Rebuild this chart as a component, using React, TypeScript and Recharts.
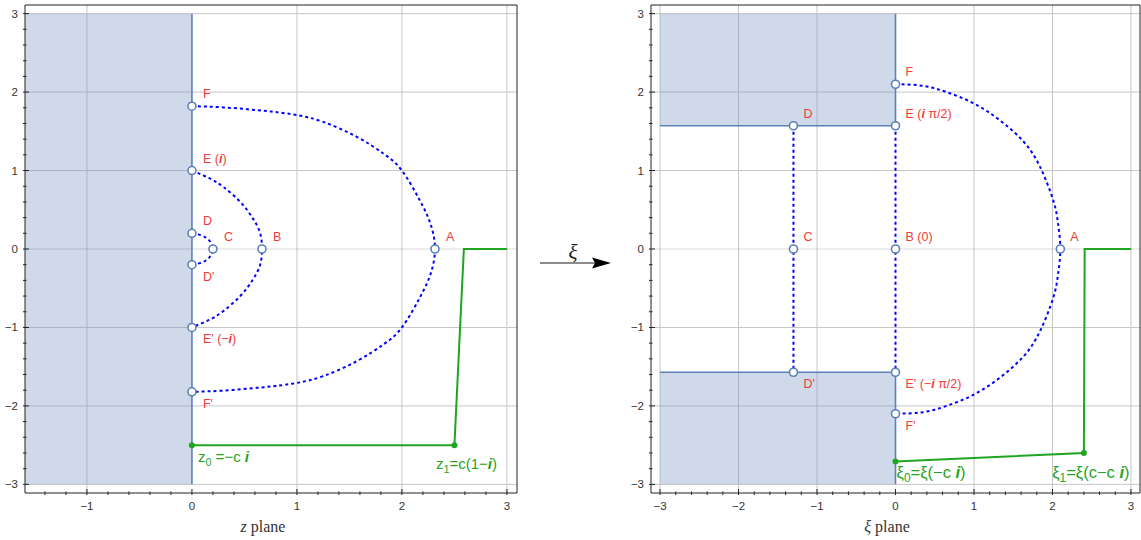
import React from "react";
import {
  ComposedChart,
  CartesianGrid,
  XAxis,
  YAxis,
  ReferenceArea,
  ReferenceLine,
  Line,
  Scatter,
} from "recharts";

const EDGE = "#5d80b6";
const SHADE = "#7592c3";
const DOTTED = "#0000ff";
const GREEN = "#1fa51f";
const RED = "#f43b3b";
const SANS = "Liberation Sans, Arial, sans-serif";
const SERIF = "Liberation Serif, DejaVu Serif, Times New Roman, serif";

// shared y axis (both planes)
const Y_TICKS = [
  -3, -2.8, -2.6, -2.4, -2.2, -2, -1.8, -1.6, -1.4, -1.2, -1, -0.8, -0.6, -0.4, -0.2, 0,
  0.2, 0.4, 0.6, 0.8, 1, 1.2, 1.4, 1.6, 1.8, 2, 2.2, 2.4, 2.6, 2.8, 3,
];
const Y_GRID = [-3, -2, -1, 1, 2, 3];
const Y_DOMAIN: [number, number] = [-3.11, 3.11];

// z plane
const Z_X_TICKS = [
  -1.4, -1.2, -1, -0.8, -0.6, -0.4, -0.2, 0, 0.2, 0.4, 0.6, 0.8, 1, 1.2, 1.4, 1.6, 1.8, 2,
  2.2, 2.4, 2.6, 2.8, 3,
];
const Z_X_GRID = [-1, 1, 2, 3];
const Z_X_DOMAIN: [number, number] = [-1.59, 3.096];

const zShades = [{ x1: -1.59, x2: 0, y1: -3, y2: 3 }];
const zEdges = [
  [
    { x: 0, y: -3 },
    { x: 0, y: 3 },
  ],
];
const zOuter = [
  { x: 0, y: 1.82 }, { x: 0.3, y: 1.805 }, { x: 0.62, y: 1.77 }, { x: 0.8, y: 1.745 },
  { x: 1.0, y: 1.707 }, { x: 1.25, y: 1.62 }, { x: 1.57, y: 1.43 }, { x: 1.82, y: 1.22 },
  { x: 2.0, y: 1.0 }, { x: 2.17, y: 0.62 }, { x: 2.27, y: 0.33 }, { x: 2.315, y: 0 },
  { x: 2.27, y: -0.33 }, { x: 2.17, y: -0.62 }, { x: 2.0, y: -1.0 }, { x: 1.82, y: -1.22 },
  { x: 1.57, y: -1.43 }, { x: 1.25, y: -1.62 }, { x: 1.0, y: -1.707 }, { x: 0.8, y: -1.745 },
  { x: 0.62, y: -1.77 }, { x: 0.3, y: -1.805 }, { x: 0, y: -1.82 },
];
const zMiddle = [
  { x: 0, y: 1.0 }, { x: 0.17, y: 0.9 }, { x: 0.3, y: 0.79 }, { x: 0.46, y: 0.6 },
  { x: 0.58, y: 0.39 }, { x: 0.65, y: 0.2 }, { x: 0.667, y: 0 }, { x: 0.65, y: -0.2 },
  { x: 0.58, y: -0.39 }, { x: 0.46, y: -0.6 }, { x: 0.3, y: -0.79 }, { x: 0.17, y: -0.9 },
  { x: 0, y: -1.0 },
];
const zInner = [
  { x: 0, y: 0.2 }, { x: 0.076, y: 0.18 }, { x: 0.14, y: 0.14 }, { x: 0.18, y: 0.08 },
  { x: 0.2, y: 0 }, { x: 0.18, y: -0.08 }, { x: 0.14, y: -0.14 }, { x: 0.076, y: -0.18 },
  { x: 0, y: -0.2 },
];
const zPath = [
  { x: 0, y: -2.5 },
  { x: 2.5, y: -2.5 },
  { x: 2.59, y: 0 },
  { x: 3.0, y: 0 },
];
const zMarks = [
  { x: 0, y: 1.82, label: "F" },
  { x: 0, y: 1.0, label: "E (§i§)" },
  { x: 0, y: 0.2, label: "D" },
  { x: 0.2, y: 0, label: "C" },
  { x: 0.667, y: 0, label: "B" },
  { x: 2.315, y: 0, label: "A" },
  { x: 0, y: -0.2, label: "D'" },
  { x: 0, y: -1.0, label: "E' (−§i§)" },
  { x: 0, y: -1.82, label: "F'" },
];
const zEnds = [
  { x: 0, y: -2.5, label: "z_0_ =−c §i§" },
  { x: 2.5, y: -2.5, label: "z_1_=c(1−§i§)" },
];

// xi plane
const XI_X_TICKS = [
  -3, -2.8, -2.6, -2.4, -2.2, -2, -1.8, -1.6, -1.4, -1.2, -1, -0.8, -0.6, -0.4, -0.2, 0,
  0.2, 0.4, 0.6, 0.8, 1, 1.2, 1.4, 1.6, 1.8, 2, 2.2, 2.4, 2.6, 2.8, 3,
];
const XI_X_GRID = [-3, -2, -1, 1, 2, 3];
const XI_X_DOMAIN: [number, number] = [-3.115, 3.115];

const xiShades = [
  { x1: -3, x2: 0, y1: 1.571, y2: 3 },
  { x1: -3, x2: 0, y1: -3, y2: -1.571 },
];
const xiEdges = [
  [
    { x: -3, y: 1.571 },
    { x: 0, y: 1.571 },
    { x: 0, y: 3 },
  ],
  [
    { x: -3, y: -1.571 },
    { x: 0, y: -1.571 },
    { x: 0, y: -3 },
  ],
];
const xiOuter = [
  { x: 0, y: 2.1 }, { x: 0.35, y: 2.08 }, { x: 0.65, y: 2.0 }, { x: 0.99, y: 1.86 },
  { x: 1.33, y: 1.64 }, { x: 1.63, y: 1.37 }, { x: 1.84, y: 1.05 }, { x: 2.01, y: 0.62 },
  { x: 2.07, y: 0.33 }, { x: 2.1, y: 0 }, { x: 2.07, y: -0.33 }, { x: 2.01, y: -0.62 },
  { x: 1.84, y: -1.05 }, { x: 1.63, y: -1.37 }, { x: 1.33, y: -1.64 }, { x: 0.99, y: -1.86 },
  { x: 0.65, y: -2.0 }, { x: 0.35, y: -2.08 }, { x: 0, y: -2.1 },
];
const xiMiddle = [
  { x: 0, y: 1.571 },
  { x: 0, y: -1.571 },
];
const xiInner = [
  { x: -1.3, y: 1.571 },
  { x: -1.3, y: -1.571 },
];
const xiPath = [
  { x: 0, y: -2.71 },
  { x: 2.4, y: -2.6 },
  { x: 2.41, y: 0 },
  { x: 3.0, y: 0 },
];
const xiMarks = [
  { x: 0, y: 2.1, label: "F" },
  { x: 0, y: 1.571, label: "E (§i§ π/2)" },
  { x: -1.3, y: 1.571, label: "D" },
  { x: -1.3, y: 0, label: "C" },
  { x: 0, y: 0, label: "B (0)" },
  { x: 2.1, y: 0, label: "A" },
  { x: -1.3, y: -1.571, label: "D'" },
  { x: 0, y: -1.571, label: "E' (−§i§ π/2)" },
  { x: 0, y: -2.1, label: "F'" },
];
const xiEnds = [
  { x: 0, y: -2.71, label: "ξ_0_=ξ(−c §i§)" },
  { x: 2.4, y: -2.6, label: "ξ_1_=ξ(c−c §i§)" },
];

// where the green end labels sit relative to their dot
const END_PLACE: Record<string, { dx: number; dy: number; anchor: string; size: number }> = {
  "z_0_ =−c §i§": { dx: 6, dy: 17, anchor: "start", size: 15 },
  "z_1_=c(1−§i§)": { dx: 12, dy: 24, anchor: "middle", size: 15 },
  "ξ_0_=ξ(−c §i§)": { dx: 1, dy: 16, anchor: "start", size: 16.5 },
  "ξ_1_=ξ(c−c §i§)": { dx: 7, dy: 25, anchor: "middle", size: 16.5 },
};

// § toggles bold italic, _ toggles subscript
function rich(s: string) {
  const out: React.ReactNode[] = [];
  let bold = false;
  let sub = false;
  let shift = 0;
  let buf = "";
  let key = 0;
  const flush = () => {
    if (!buf) return;
    const target = sub ? 4 : 0;
    out.push(
      <tspan
        key={key++}
        dy={target - shift}
        fontWeight={bold ? "bold" : undefined}
        fontStyle={bold ? "italic" : undefined}
        fontSize={sub ? "0.72em" : undefined}
      >
        {buf}
      </tspan>
    );
    shift = target;
    buf = "";
  };
  for (const ch of s) {
    if (ch === "§") {
      flush();
      bold = !bold;
    } else if (ch === "_") {
      flush();
      sub = !sub;
    } else buf += ch;
  }
  flush();
  return out;
}

const isMajor = (v: number) => Math.abs(v - Math.round(v)) < 1e-6;
const fmt = (v: number) => {
  const r = Math.round(v);
  return r < 0 ? "−" + Math.abs(r) : String(r);
};
const TICK_COLOR = "#222";

const BottomTick = (p: any) => {
  const { x, y, payload } = p;
  const major = isMajor(payload.value);
  return (
    <g>
      <line x1={x} x2={x} y1={y} y2={y - (major ? 6 : 3.5)} stroke={TICK_COLOR} />
      {major && (
        <text x={x} y={y + 15} textAnchor="middle" fontSize={11.5} fontFamily={SANS} fill="#333">
          {fmt(payload.value)}
        </text>
      )}
    </g>
  );
};
const TopTick = (p: any) => {
  const { x, y, payload } = p;
  const major = isMajor(payload.value);
  return <line x1={x} x2={x} y1={y} y2={y + (major ? 6 : 3.5)} stroke={TICK_COLOR} />;
};
const LeftTick = (p: any) => {
  const { x, y, payload } = p;
  const major = isMajor(payload.value);
  return (
    <g>
      <line x1={x} x2={x + (major ? 6 : 3.5)} y1={y} y2={y} stroke={TICK_COLOR} />
      {major && (
        <text x={x - 5} y={y + 4} textAnchor="end" fontSize={11.5} fontFamily={SANS} fill="#333">
          {fmt(payload.value)}
        </text>
      )}
    </g>
  );
};
const RightTick = (p: any) => {
  const { x, y, payload } = p;
  const major = isMajor(payload.value);
  return <line x1={x} x2={x - (major ? 6 : 3.5)} y1={y} y2={y} stroke={TICK_COLOR} />;
};

const makeMark = (dx: number) => (p: any) => {
  const { cx, cy, payload } = p;
  const below = payload.y < 0;
  return (
    <g>
      <circle cx={cx} cy={cy} r={4} fill="#fff" stroke={EDGE} strokeWidth={1.6} />
      <text
        x={cx + dx}
        y={cy + (below ? 16 : -8)}
        fill={RED}
        fontSize={12.5}
        fontFamily={SANS}
        style={{ whiteSpace: "pre" }}
      >
        {rich(payload.label)}
      </text>
    </g>
  );
};

const EndDot = (p: any) => {
  const { cx, cy, payload } = p;
  const place = END_PLACE[payload.label] ?? { dx: 6, dy: 16, anchor: "start", size: 15 };
  return (
    <g>
      <circle cx={cx} cy={cy} r={3} fill={GREEN} />
      <text
        x={cx + place.dx}
        y={cy + place.dy}
        textAnchor={place.anchor as any}
        fill={GREEN}
        fontSize={place.size}
        fontFamily={SANS}
      >
        {rich(payload.label)}
      </text>
    </g>
  );
};

type Pt = { x: number; y: number };
type PanelProps = {
  left: number;
  width: number;
  margin: { top: number; right: number; bottom: number; left: number };
  xDomain: [number, number];
  xTicks: number[];
  gridX: number[];
  shades: { x1: number; x2: number; y1: number; y2: number }[];
  edges: Pt[][];
  curves: Pt[][];
  path: Pt[];
  marks: (Pt & { label: string })[];
  ends: (Pt & { label: string })[];
  labelDx: number;
};

function Panel(props: PanelProps) {
  const { left, width, margin, xDomain, xTicks, gridX, shades, edges, curves, path, marks, ends, labelDx } =
    props;
  return (
    <div style={{ position: "absolute", left, top: 0 }}>
      <ComposedChart width={width} height={540} margin={margin}>
        <CartesianGrid verticalValues={gridX} horizontalValues={Y_GRID} stroke="#c6c6c6" />
        <XAxis
          type="number"
          dataKey="x"
          domain={xDomain}
          ticks={xTicks}
          interval={0}
          height={30}
          tickSize={0}
          tickLine={false}
          axisLine={{ stroke: TICK_COLOR }}
          tick={(p: any) => <BottomTick {...p} />}
        />
        <XAxis
          xAxisId="t"
          orientation="top"
          type="number"
          dataKey="x"
          domain={xDomain}
          ticks={xTicks}
          interval={0}
          height={1}
          tickSize={0}
          tickLine={false}
          axisLine={{ stroke: TICK_COLOR }}
          tick={(p: any) => <TopTick {...p} />}
        />
        <YAxis
          type="number"
          dataKey="y"
          domain={Y_DOMAIN}
          ticks={Y_TICKS}
          interval={0}
          width={20}
          tickSize={0}
          tickLine={false}
          axisLine={{ stroke: TICK_COLOR }}
          tick={(p: any) => <LeftTick {...p} />}
        />
        <YAxis
          yAxisId="r"
          orientation="right"
          type="number"
          dataKey="y"
          domain={Y_DOMAIN}
          ticks={Y_TICKS}
          interval={0}
          width={1}
          tickSize={0}
          tickLine={false}
          axisLine={{ stroke: TICK_COLOR }}
          tick={(p: any) => <RightTick {...p} />}
        />
        {shades.map((s, i) => (
          <ReferenceArea
            key={`s${i}`}
            x1={s.x1}
            x2={s.x2}
            y1={s.y1}
            y2={s.y2}
            fill={SHADE}
            fillOpacity={0.35}
            stroke="none"
          />
        ))}
        <ReferenceLine y={0} stroke="#000" strokeOpacity={0.07} strokeWidth={2} />
        {edges.map((e, i) => (
          <Line
            key={`e${i}`}
            data={e}
            dataKey="y"
            type="linear"
            stroke={EDGE}
            strokeWidth={1.6}
            dot={false}
            activeDot={false}
            isAnimationActive={false}
          />
        ))}
        {curves.map((c, i) => (
          <Line
            key={`c${i}`}
            data={c}
            dataKey="y"
            type={c.length > 2 ? "natural" : "linear"}
            stroke={DOTTED}
            strokeWidth={2}
            strokeDasharray="3 3"
            dot={false}
            activeDot={false}
            isAnimationActive={false}
          />
        ))}
        <Line
          data={path}
          dataKey="y"
          type="linear"
          stroke={GREEN}
          strokeWidth={2}
          dot={false}
          activeDot={false}
          isAnimationActive={false}
        />
        <Scatter data={marks} dataKey="y" shape={makeMark(labelDx)} isAnimationActive={false} />
        <Scatter data={ends} dataKey="y" shape={EndDot} isAnimationActive={false} />
      </ComposedChart>
    </div>
  );
}

export default function App() {
  return (
    <div
      style={{
        position: "absolute",
        left: 0,
        top: 0,
        width: 1141,
        height: 540,
        background: "#fff",
        overflow: "hidden",
      }}
    >
      <Panel
        left={0}
        width={530}
        margin={{ top: 4, right: 12, bottom: 17, left: 5 }}
        xDomain={Z_X_DOMAIN}
        xTicks={Z_X_TICKS}
        gridX={Z_X_GRID}
        shades={zShades}
        edges={zEdges}
        curves={[zOuter, zMiddle, zInner]}
        path={zPath}
        marks={zMarks}
        ends={zEnds}
        labelDx={11}
      />
      <Panel
        left={600}
        width={541}
        margin={{ top: 4, right: 0, bottom: 17, left: 31 }}
        xDomain={XI_X_DOMAIN}
        xTicks={XI_X_TICKS}
        gridX={XI_X_GRID}
        shades={xiShades}
        edges={xiEdges}
        curves={[xiOuter, xiMiddle, xiInner]}
        path={xiPath}
        marks={xiMarks}
        ends={xiEnds}
        labelDx={10}
      />
      <svg
        width={1141}
        height={540}
        style={{ position: "absolute", left: 0, top: 0, pointerEvents: "none" }}
      >
        <text x={263} y={532} textAnchor="middle" fontSize={16} style={{ fontFamily: SERIF }} fill="#333">
          <tspan fontStyle="italic">z</tspan> plane
        </text>
        <text x={887} y={532} textAnchor="middle" fontSize={16} style={{ fontFamily: SERIF }} fill="#333">
          <tspan fontStyle="italic">ξ</tspan> plane
        </text>
        <line x1={540} y1={263} x2={598} y2={263} stroke="#666" strokeWidth={1.5} />
        <polygon points="592,257.5 611,263 592,268.5 595,263" fill="#000" />
        <text
          x={573}
          y={259}
          textAnchor="middle"
          fontSize={21}
          fontStyle="italic"
          style={{ fontFamily: SERIF }}
          fill="#222"
        >
          ξ
        </text>
      </svg>
    </div>
  );
}
